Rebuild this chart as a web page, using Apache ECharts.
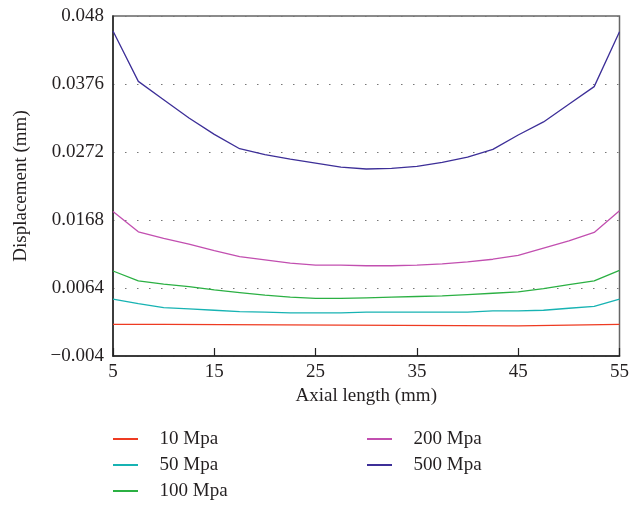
<!DOCTYPE html>
<html>
<head>
<meta charset="utf-8">
<script src="https://cdn.jsdelivr.net/npm/echarts@6/dist/echarts.min.js"></script>
<style>
  html, body { margin: 0; padding: 0; background: #fff; }
  #chart { width: 632px; height: 506px; }
</style>
</head>
<body>
<div id="chart"></div>
<script>
// axial positions (mm)
const xs = [5, 7.5, 10, 12.5, 15, 17.5, 20, 22.5, 25, 27.5, 30, 32.5, 35, 37.5, 40, 42.5, 45, 47.5, 50, 52.5, 55]

const disp50 = [0.0047, 0.0040, 0.0034, 0.0032, 0.0030, 0.0028, 0.0027, 0.0026, 0.0026, 0.0026, 0.0027,
  0.0027, 0.0027, 0.0027, 0.0027, 0.0029, 0.0029, 0.0030, 0.0033, 0.0036, 0.0047]
const disp100 = [0.0090, 0.0075, 0.0070, 0.0066, 0.0061, 0.0057, 0.0053, 0.0050, 0.0048, 0.0048, 0.0049,
  0.0050, 0.0051, 0.0052, 0.0054, 0.0056, 0.0058, 0.0063, 0.0069, 0.0075, 0.0091]
const disp200 = [0.0181, 0.0150, 0.0140, 0.0131, 0.0121, 0.0112, 0.0107, 0.0102, 0.0099, 0.0099, 0.0098,
  0.0098, 0.0099, 0.0101, 0.0104, 0.0108, 0.0114, 0.0125, 0.0136, 0.0149, 0.0182]
const disp500 = [0.0457, 0.0380, 0.0352, 0.0324, 0.0299, 0.0277, 0.0268, 0.0261, 0.0255, 0.0249, 0.0246,
  0.0247, 0.0250, 0.0256, 0.0264, 0.0276, 0.0298, 0.0318, 0.0345, 0.0372, 0.0456]

// 10 Mpa curve is a flat line with two small steps
const x10 = [5, 10, 10, 45, 45, 55]
const disp10 = [0.00085, 0.00085, 0.00062, 0.00062, 0.00085, 0.00085]

const yTicks = [-0.004, 0.0064, 0.0168, 0.0272, 0.0376, 0.048]
const xTicks = [5, 15, 25, 35, 45, 55]

const names = ['10 Mpa', '50 Mpa', '100 Mpa', '200 Mpa', '500 Mpa']
const colors = ['#ee3b22', '#17b3b3', '#2bb043', '#c24fb0', '#3d2f98']

const font = 'Liberation Serif'
const txt = '#231f20'

function pairs(x, y) {
  return x.map((v, i) => [v, y[i]])
}

const seriesData = [
  pairs(x10, disp10),
  pairs(xs, disp50),
  pairs(xs, disp100),
  pairs(xs, disp200),
  pairs(xs, disp500)
]

const legendBase = {
  orient: 'vertical',
  padding: 0,
  height: 90,
  icon: 'path://M0,0 L1,0 L1,0.08 L0,0.08 Z',
  itemWidth: 34,
  itemHeight: 2,
  itemGap: 6,
  textStyle: { fontFamily: font, fontSize: 19, color: txt, lineHeight: 20, padding: [0, 0, 0, 12] }
}

const chart = echarts.init(document.getElementById('chart'))
chart.setOption({
  animation: false,
  color: colors,
  grid: {
    left: 113, right: 10, top: 16, bottom: 150,
    show: true, borderColor: '#666', borderWidth: 1.5
  },
  legend: [
    Object.assign({}, legendBase, { left: 113, top: 429, data: names.slice(0, 3) }),
    Object.assign({}, legendBase, { left: 367, top: 429, data: names.slice(3) })
  ],
  xAxis: {
    type: 'value',
    min: xTicks[0],
    max: xTicks[xTicks.length - 1],
    interval: xTicks[1] - xTicks[0],
    name: 'Axial length (mm)',
    nameLocation: 'middle',
    nameGap: 31,
    nameTextStyle: { fontFamily: font, fontSize: 19, color: txt },
    axisLine: { onZero: false, lineStyle: { color: '#222', width: 1.5 } },
    axisTick: { inside: true, length: 8, lineStyle: { color: '#222', width: 1.2 } },
    axisLabel: { margin: 7, fontFamily: font, fontSize: 19, color: txt },
    splitLine: { show: false }
  },
  yAxis: {
    type: 'value',
    min: yTicks[0],
    max: yTicks[yTicks.length - 1],
    interval: yTicks[1] - yTicks[0],
    name: 'Displacement (mm)',
    nameLocation: 'middle',
    nameGap: 82,
    nameTextStyle: { fontFamily: font, fontSize: 19, color: txt },
    axisLine: { onZero: false, lineStyle: { color: '#222', width: 1.5 } },
    axisTick: { show: false },
    axisLabel: {
      margin: 9, fontFamily: font, fontSize: 19, color: txt,
      formatter: v => String(Math.round(v * 10000) / 10000).replace('-', '\u2212')
    },
    splitLine: { show: true, lineStyle: { color: '#777', width: 1.2, type: [1.5, 10.5] } }
  },
  series: seriesData.map((d, i) => ({
    name: names[i],
    type: 'line',
    data: d,
    symbol: 'none',
    lineStyle: { width: 1.3, color: colors[i] },
    itemStyle: { color: colors[i] }
  }))
})
</script>
</body>
</html>
